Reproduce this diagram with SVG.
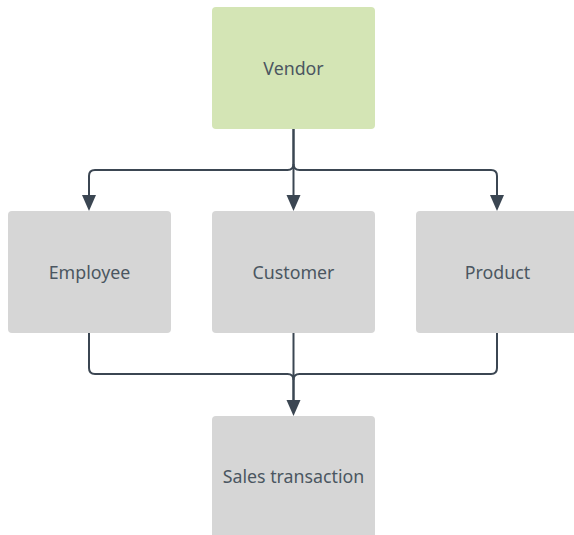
<svg xmlns="http://www.w3.org/2000/svg" width="574" height="535" viewBox="0 0 574 535">
<style>
.box{fill:#d6d6d6}
.vendor{fill:#d4e5b5}
.lbl{font-family:"Noto Sans",Lato,sans-serif;font-size:17.8px;fill:#4b5661;text-anchor:middle;dominant-baseline:central}
.c{fill:none;stroke:#3b4652;stroke-width:2;stroke-linejoin:round}
</style>
<g id="connectors">
<path class="c" d="M293.5,129 V164 Q293.5,170 287.5,170 H95 Q89,170 89,176 V195"/>
<path class="c" d="M293.5,164 Q293.5,170 299.5,170 H491 Q497,170 497,176 V195"/>
<path class="c" d="M293.5,129 V195"/>
<path d="M286.5,195 L300.5,195 L293.5,211 Z" fill="#3b4652"/>
<path d="M82,195 L96,195 L89,211 Z" fill="#3b4652"/>
<path d="M490,195 L504,195 L497,211 Z" fill="#3b4652"/>
<path class="c" d="M89,333 V368 Q89,374 95,374 H287.5 Q293.5,374 293.5,380 V400"/>
<path class="c" d="M497,333 V368 Q497,374 491,374 H299.5 Q293.5,374 293.5,380"/>
<path class="c" d="M293.5,333 V400"/>
<path d="M286.5,400 L300.5,400 L293.5,416 Z" fill="#3b4652"/>
</g>
<g id="vendor">
<rect class="vendor" x="212" y="7" width="163" height="122" rx="4"/>
<text class="lbl" x="293.5" y="68">Vendor</text>
</g>
<g id="employee">
<rect class="box" x="8" y="211" width="163" height="122" rx="4"/>
<text class="lbl" x="89.5" y="272">Employee</text>
</g>
<g id="customer">
<rect class="box" x="212" y="211" width="163" height="122" rx="4"/>
<text class="lbl" x="293.5" y="272">Customer</text>
</g>
<g id="product">
<rect class="box" x="416" y="211" width="163" height="122" rx="4"/>
<text class="lbl" x="497.5" y="272">Product</text>
</g>
<g id="sales">
<rect class="box" x="212" y="416" width="163" height="130" rx="4"/>
<text class="lbl" x="293.5" y="476">Sales transaction</text>
</g>
</svg>
